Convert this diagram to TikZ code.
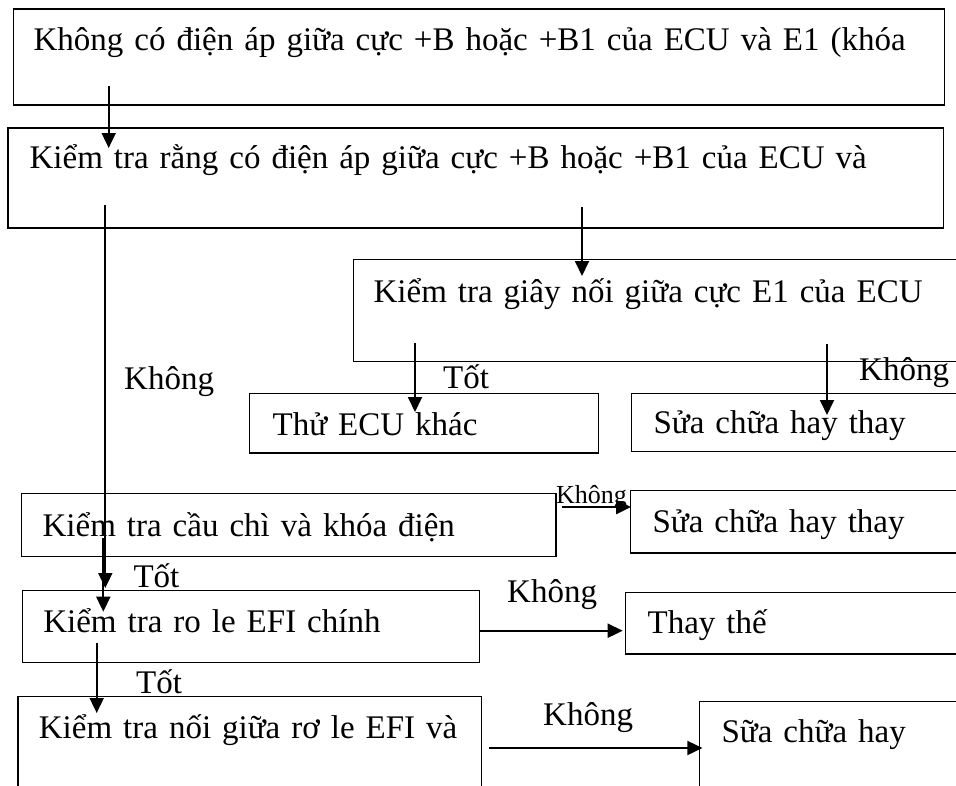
\documentclass[tikz,border=0pt]{standalone}
\usepackage{fontspec}
\setmainfont{Liberation Serif}
\usetikzlibrary{arrows.meta}
\usetikzlibrary{calc}

\begin{document}
\begin{tikzpicture}
[x=1pt,y=-1pt,%
  every node/.style={inner sep=0pt,font=\fontsize{33}{40}\selectfont},%
  box/.style={draw,line width=1.2pt,anchor=north west,align=left,inner ysep=0pt},%
  lbl/.style={anchor=base west},%
  arr/.style={-{Triangle[length=15pt,width=14pt]},line width=1.8pt}]
\clip (0,0) rectangle (956,785);
% the boxes
\node[box,inner xsep=20.3pt,text width=890.7pt,text height=41.7pt,text depth=54.3pt]
  (novolt) at (12.7,8.3) {Không có điện áp giữa cực +B hoặc +B1 của ECU và E1 (khóa};
\node[box,inner xsep=21.7pt,text width=892.3pt,text height=40.7pt,text depth=59.3pt]
  (volt) at (7.3,127.3) {Kiểm tra rằng có điện áp giữa cực +B hoặc +B1 của ECU và};
\node[box,inner xsep=20.3pt,text width=586.7pt,text height=43pt,text depth=58.7pt]
  (gnd) at (352.7,259) {Kiểm tra giây nối giữa cực E1 của ECU};
\node[box,inner xsep=23.3pt,text width=302.7pt,text height=42.3pt,text depth=17.3pt]
  (ecu) at (248.7,392.7) {Thử ECU khác};
\node[box,inner xsep=22pt,text width=305pt,text height=40.6pt,text depth=17.7pt]
  (fixgnd) at (631,392.7) {Sửa chữa hay thay};
\node[box,inner xsep=21.3pt,text width=492pt,text height=43pt,text depth=20.3pt]
  (fuse) at (20.7,492.7) {Kiểm tra cầu chì và khóa điện};
\node[box,inner xsep=22pt,text width=306pt,text height=42pt,text depth=20.3pt]
  (fixfuse) at (630,490) {Sửa chữa hay thay};
\node[box,inner xsep=21pt,text width=415pt,text height=42pt,text depth=29.7pt]
  (relay) at (21.7,590) {Kiểm tra ro le EFI chính};
\node[box,inner xsep=22pt,text width=311pt,text height=41pt,text depth=20.6pt]
  (swap) at (625,591.7) {Thay thế};
\node[box,inner xsep=21pt,text width=421.7pt,text height=42.3pt,text depth=61.7pt]
  (wire) at (17.3,696) {Kiểm tra nối giữa rơ le EFI và};
\node[box,inner xsep=22pt,text width=237pt,text height=41pt,text depth=58.3pt]
  (fixwire) at (699,700.7) {Sữa chữa hay};
% the arrows
\draw[arr] ($(novolt.south west)+(96,-19.3)$) -- ($(volt.north west)+(101.4,20.7)$);
\draw[arr] ($(volt.south west)+(574.7,-21.3)$) -- ($(gnd.north west)+(229.3,17)$);
\draw[arr] ($(volt.south west)+(98,-23.3)$) -- ($(relay.north west)+(83.6,-2)$);
\draw[arr] ($(gnd.south west)+(62.3,-18.7)$) -- ($(ecu.north west)+(166.3,19.3)$);
\draw[arr] ($(gnd.south west)+(474.3,-17.7)$) -- ($(fixgnd.north west)+(196,22.3)$);
\draw[arr,line width=2.5pt] ($(fuse.north east)+(5.7,14.3)$) -- ($(fixfuse.north west)+(1,17)$);
\draw[arr] ($(fuse.south west)+(82.6,-19)$) -- ($(relay.north west)+(81.6,21.7)$);
\draw[arr] ($(relay.north east)+(0,40.7)$) -- ($(swap.north west)+(-2.3,39)$);
\draw[arr] ($(relay.south west)+(75,-19.7)$) -- ($(wire.north west)+(79.4,17)$);
\draw[arr] ($(wire.north east)+(7,52)$) -- ($(fixwire.north west)+(3.4,47.3)$);
% labels on the arrows
\node[lbl] (no1) at (124,389) {Không};
\node[lbl] (ok1) at (443,388) {Tốt};
\node[lbl] (no2) at (859,380) {Không};
\node[lbl,font=\fontsize{26}{30}\selectfont] (no3) at (556,503) {Không};
\node[lbl] (ok2) at (133.3,587) {Tốt};
\node[lbl] (no4) at (507,602) {Không};
\node[lbl] (ok3) at (136,693.3) {Tốt};
\node[lbl] (no5) at (543,725) {Không};
\end{tikzpicture}
\end{document}
